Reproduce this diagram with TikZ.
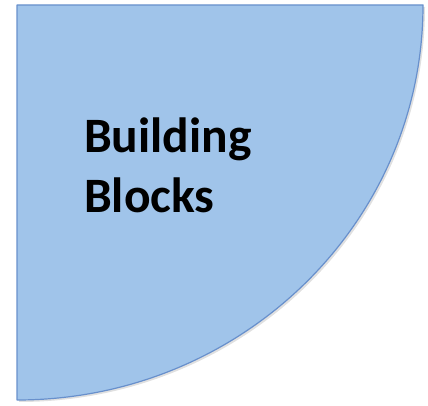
\documentclass[tikz,border=0pt]{standalone}
\usepackage{fontspec}
\setmainfont{Carlito}
\definecolor{pief}{RGB}{160,196,234}
\definecolor{pied}{RGB}{104,144,204}
\tikzset{slice/.style={fill=pief,draw=pied,line width=1.2pt,line join=round},
  lbl/.style={anchor=north west,align=left,font=\bfseries\fontsize{49.5}{60}\selectfont,text=black,inner sep=0pt}}
\begin{document}
\begin{tikzpicture}[x=1pt,y=1pt]
\useasboundingbox (0,0) rectangle (428,406);
\fill[black!12] (19,399) -- (425,399) arc[start angle=0,end angle=-90,x radius=406,y radius=395] -- cycle;
\draw[slice] (17,401) -- (423,401) arc[start angle=0,end angle=-90,x radius=406,y radius=395] -- cycle;
\node[lbl] (t) at (84,288) {Building\\Blocks};
\end{tikzpicture}
\end{document}
